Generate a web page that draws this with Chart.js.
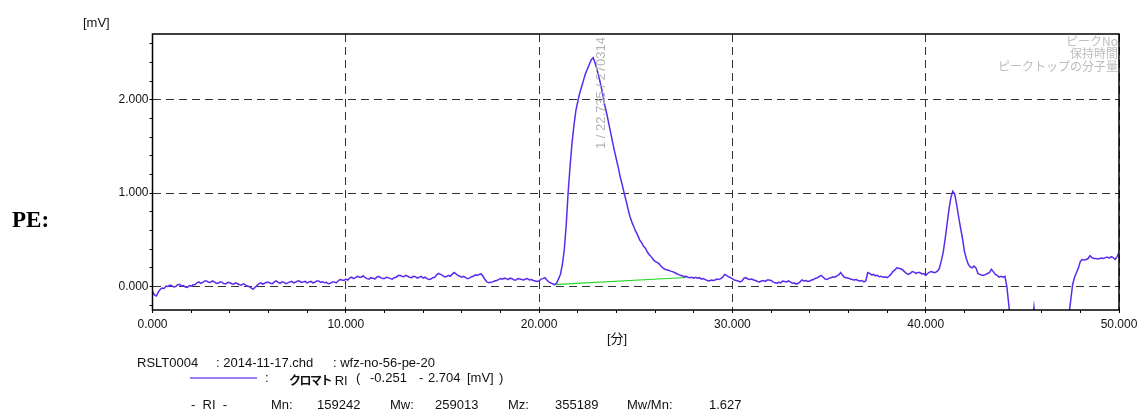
<!DOCTYPE html>
<html>
<head>
<meta charset="utf-8">
<title>PE RI chromatogram</title>
<script src="https://cdn.jsdelivr.net/npm/chart.js@4.4.1/dist/chart.umd.min.js"></script>
<style>
  body { margin: 0; background: #fff; }
  #wrap { position: relative; width: 1138px; height: 413px; overflow: hidden;
          font-family: "Liberation Sans", "Noto Sans CJK JP", sans-serif; color: #111; }
  #wrap canvas { position: absolute; left: 0; top: 0; }
  .t { position: absolute; font-size: 13px; line-height: 13px; white-space: pre; }
  .pe { position: absolute; left: 12px; top: 207px; font: bold 23px "Liberation Serif", "DejaVu Serif", serif; color: #000; }
  .legend-line { position: absolute; left: 190px; top: 377px; width: 67px; height: 2px; background: #9a7df2; }
  .kana { font: bold 12px "Noto Sans CJK JP", sans-serif; letter-spacing: -1.5px; }
</style>
</head>
<body>
<div id="wrap">
  <canvas id="chrom" width="1138" height="413"></canvas>
  <div class="pe">PE:</div>
  <div class="t" style="left:83px;top:16px">[mV]</div>
  <div class="t" style="left:607px;top:332px">[分]</div>

  <div class="t" style="left:137px;top:356px">RSLT0004</div>
  <div class="t" style="left:216px;top:356px">: 2014-11-17.chd</div>
  <div class="t" style="left:333px;top:356px">: wfz-no-56-pe-20</div>

  <div class="legend-line"></div>
  <div class="t" style="left:265px;top:371px">:</div>
  <div class="t" style="left:289px;top:371px"><span class="kana">クロマト</span> RI</div>
  <div class="t" style="left:356px;top:371px">(</div>
  <div class="t" id="rangeLo" style="left:370px;top:371px"></div>
  <div class="t" style="left:419px;top:371px">-</div>
  <div class="t" id="rangeHi" style="left:428px;top:371px"></div>
  <div class="t" style="left:467px;top:371px">[mV]</div>
  <div class="t" style="left:499px;top:371px">)</div>

  <div class="t" style="left:191px;top:398px">-  RI  -</div>
  <div class="t" style="left:271px;top:398px">Mn:</div>
  <div class="t" id="mn" style="left:317px;top:398px"></div>
  <div class="t" style="left:390px;top:398px">Mw:</div>
  <div class="t" id="mw" style="left:435px;top:398px"></div>
  <div class="t" style="left:508px;top:398px">Mz:</div>
  <div class="t" id="mz" style="left:555px;top:398px"></div>
  <div class="t" style="left:627px;top:398px">Mw/Mn:</div>
  <div class="t" id="pd" style="left:709px;top:398px"></div>
</div>
<script>
// RI detector signal [mV], one sample every 0.1 min from 0 to 50 min (10 per row)
const sampleStep = 0.1;
const riSignal = [
  -0.05, -0.09, -0.10, -0.06, -0.03, -0.015, -0.02, 0.005, 0.00, 0.015,
  0.01, -0.005, 0.00, 0.02, 0.025, 0.005, 0.01, -0.005, -0.01, 0.01,
  0.005, 0.02, 0.02, 0.04, 0.05, 0.035, 0.045, 0.06, 0.06, 0.045,
  0.045, 0.06, 0.05, 0.035, 0.035, 0.05, 0.045, 0.03, 0.03, 0.045,
  0.04, 0.03, 0.025, 0.04, 0.03, 0.02, 0.015, 0.03, 0.02, 0.005,
  0.00, -0.015, -0.03, -0.01, 0.01, 0.03, 0.04, 0.025, 0.035, 0.045,
  0.045, 0.035, 0.03, 0.05, 0.06, 0.045, 0.035, 0.05, 0.045, 0.03,
  0.04, 0.05, 0.055, 0.04, 0.045, 0.06, 0.06, 0.045, 0.05, 0.055,
  0.04, 0.05, 0.055, 0.04, 0.045, 0.06, 0.06, 0.045, 0.05, 0.04,
  0.045, 0.03, 0.035, 0.05, 0.05, 0.04, 0.06, 0.075, 0.07, 0.065,
  0.08, 0.07, 0.09, 0.10, 0.085, 0.095, 0.11, 0.10, 0.10, 0.115,
  0.095, 0.085, 0.08, 0.095, 0.09, 0.08, 0.10, 0.11, 0.095, 0.085,
  0.085, 0.10, 0.095, 0.085, 0.08, 0.095, 0.10, 0.115, 0.12, 0.11,
  0.105, 0.12, 0.11, 0.10, 0.095, 0.11, 0.105, 0.09, 0.10, 0.11,
  0.09, 0.10, 0.085, 0.075, 0.08, 0.095, 0.10, 0.125, 0.14, 0.13,
  0.12, 0.105, 0.105, 0.12, 0.11, 0.13, 0.15, 0.135, 0.12, 0.11,
  0.10, 0.11, 0.095, 0.085, 0.09, 0.105, 0.11, 0.125, 0.12, 0.13,
  0.135, 0.11, 0.075, 0.05, 0.04, 0.045, 0.05, 0.06, 0.065, 0.075,
  0.085, 0.08, 0.09, 0.085, 0.075, 0.09, 0.085, 0.07, 0.07, 0.085,
  0.08, 0.075, 0.07, 0.08, 0.085, 0.07, 0.075, 0.065, 0.06, 0.055,
  0.06, 0.08, 0.085, 0.095, 0.07, 0.05, 0.04, 0.03, 0.02, 0.035,
  0.08, 0.13, 0.23, 0.39, 0.65, 1.00, 1.28, 1.53, 1.72, 1.88,
  1.98, 2.07, 2.14, 2.21, 2.28, 2.33, 2.38, 2.43, 2.45, 2.39,
  2.32, 2.24, 2.15, 2.05, 1.94, 1.85, 1.75, 1.65, 1.55, 1.45,
  1.36, 1.27, 1.17, 1.09, 1.00, 0.92, 0.83, 0.75, 0.69, 0.64,
  0.59, 0.55, 0.50, 0.47, 0.43, 0.41, 0.37, 0.34, 0.32, 0.29,
  0.27, 0.26, 0.245, 0.22, 0.20, 0.185, 0.18, 0.175, 0.165, 0.16,
  0.15, 0.14, 0.13, 0.12, 0.115, 0.105, 0.11, 0.10, 0.095, 0.10,
  0.09, 0.10, 0.09, 0.095, 0.08, 0.085, 0.075, 0.065, 0.06, 0.07,
  0.065, 0.07, 0.08, 0.075, 0.085, 0.10, 0.13, 0.12, 0.105, 0.095,
  0.085, 0.07, 0.065, 0.06, 0.05, 0.06, 0.09, 0.095, 0.08, 0.075,
  0.08, 0.07, 0.065, 0.055, 0.05, 0.06, 0.065, 0.055, 0.07, 0.07,
  0.065, 0.05, 0.04, 0.035, 0.045, 0.04, 0.06, 0.055, 0.05, 0.06,
  0.05, 0.035, 0.04, 0.025, 0.035, 0.05, 0.07, 0.06, 0.065, 0.055,
  0.06, 0.07, 0.075, 0.09, 0.095, 0.11, 0.12, 0.10, 0.08, 0.075,
  0.09, 0.095, 0.105, 0.10, 0.115, 0.125, 0.15, 0.12, 0.10, 0.095,
  0.09, 0.08, 0.075, 0.07, 0.075, 0.065, 0.06, 0.065, 0.05, 0.06,
  0.15, 0.14, 0.125, 0.13, 0.115, 0.12, 0.105, 0.11, 0.10, 0.105,
  0.095, 0.11, 0.13, 0.16, 0.175, 0.20, 0.195, 0.19, 0.18, 0.16,
  0.14, 0.13, 0.14, 0.16, 0.155, 0.14, 0.15, 0.15, 0.135, 0.14,
  0.12, 0.14, 0.155, 0.16, 0.15, 0.15, 0.165, 0.19, 0.27, 0.36,
  0.50, 0.66, 0.82, 0.95, 1.02, 0.99, 0.88, 0.75, 0.63, 0.52,
  0.38, 0.30, 0.24, 0.21, 0.20, 0.22, 0.20, 0.14, 0.13, 0.12,
  0.12, 0.13, 0.14, 0.15, 0.185, 0.16, 0.13, 0.12, 0.10, 0.11,
  0.10, 0.11, 0.00, -0.20, -0.40, -0.60, -0.75, -0.85, -0.95, -1.00,
  -1.05, -1.00, -0.95, -0.80, -0.60, -0.40, -0.22, -0.45, -0.70, -0.90,
  -1.00, -1.05, -1.10, -1.10, -1.10, -1.05, -1.00, -0.95, -0.90, -0.85,
  -0.80, -0.70, -0.60, -0.50, -0.32, -0.15, 0.02, 0.10, 0.15, 0.20,
  0.27, 0.29, 0.285, 0.29, 0.30, 0.33, 0.31, 0.30, 0.30, 0.295,
  0.30, 0.305, 0.30, 0.31, 0.315, 0.305, 0.32, 0.31, 0.29, 0.32,
  0.36
];

// integration baseline under peak 1: [time, mV]
const baselineStart = [20.75, 0.02];
const baselineEnd = [27.6, 0.097];

// peak table
const peakNo = 1;
const peakTime = 22.735;
const peakMw = 270314;
const peakHeader = ['ピークNo', '保持時間', 'ピークトップの分子量'];

// axis ranges and labelled ticks
const timeMin = 0, timeMax = 50;
const mvMin = -0.251, mvMax = 2.704;
const timeLabelTicks = [0, 10, 20, 30, 40, 50];
const mvLabelTicks = [0, 1, 2];
const timeMinorStep = 2;
const mvMinorStep = 0.2;

// molecular weight averages
const mn = 159242, mw = 259013, mz = 355189, mwmn = 1.627;

document.getElementById('rangeLo').textContent = mvMin.toFixed(3);
document.getElementById('rangeHi').textContent = mvMax.toFixed(3);
document.getElementById('mn').textContent = mn;
document.getElementById('mw').textContent = mw;
document.getElementById('mz').textContent = mz;
document.getElementById('pd').textContent = mwmn.toFixed(3);

const tracePoints = riSignal.map((v, i) => ({ x: +(i * sampleStep).toFixed(1), y: v }));

const isOn = (list, v) => list.some(t => Math.abs(t - v) < 1e-6);
const tickFont = { family: '"Liberation Sans", sans-serif', size: 12 };

// frame, peak label and peak table header drawn over the plot
const overlay = {
  id: 'overlay',
  afterDraw(chart) {
    const { ctx, chartArea: a, scales } = chart;
    ctx.save();
    ctx.strokeStyle = '#000';
    ctx.lineWidth = 1.5;
    ctx.strokeRect(a.left, a.top, a.right - a.left, a.bottom - a.top);

    ctx.fillStyle = '#bdbdbd';
    ctx.font = '12px "Noto Sans CJK JP", "Liberation Sans", sans-serif';
    ctx.textAlign = 'right';
    ctx.textBaseline = 'middle';
    peakHeader.forEach((s, i) => ctx.fillText(s, a.right - 1, a.top + 7 + i * 12.5));

    const px = scales.x.getPixelForValue(peakTime) + 9;
    ctx.translate(px, a.top + 115);
    ctx.rotate(-Math.PI / 2);
    ctx.textAlign = 'left';
    ctx.fillStyle = '#b4b4b4';
    ctx.font = '13px "Liberation Sans", sans-serif';
    ctx.fillText(`${peakNo} / ${peakTime} / ${peakMw}`, 0, 0);
    ctx.restore();
  }
};

new Chart(document.getElementById('chrom'), {
  type: 'line',
  data: {
    datasets: [
      {
        data: tracePoints,
        borderColor: '#5a2bee',
        borderWidth: 1.5,
        pointRadius: 0,
        tension: 0,
        order: 1
      },
      {
        data: [
          { x: baselineStart[0], y: baselineStart[1] },
          { x: baselineEnd[0], y: baselineEnd[1] }
        ],
        borderColor: '#22d822',
        borderWidth: 1.2,
        pointRadius: 0,
        order: 2
      }
    ]
  },
  options: {
    responsive: false,
    animation: false,
    devicePixelRatio: 1,
    layout: { padding: { left: 0, top: 34, right: 19, bottom: 73 } },
    plugins: { legend: { display: false }, tooltip: { enabled: false } },
    scales: {
      x: {
        type: 'linear',
        min: timeMin,
        max: timeMax,
        afterFit: s => { s.height = 30; s.paddingLeft = 0; s.paddingRight = 0; },
        ticks: {
          stepSize: timeMinorStep,
          autoSkip: false,
          maxRotation: 0,
          padding: 4,
          color: '#111',
          font: tickFont,
          callback: v => isOn(timeLabelTicks, v) ? v.toFixed(3) : ''
        },
        grid: {
          color: c => (c.tick && isOn(timeLabelTicks, c.tick.value)) ? '#333' : 'rgba(0,0,0,0)',
          tickColor: '#000',
          tickLength: 3,
          lineWidth: 1
        },
        border: { display: false, dash: [8, 5] }
      },
      y: {
        min: mvMin,
        max: mvMax,
        afterFit: s => { s.width = 152.5; },
        ticks: {
          stepSize: mvMinorStep,
          includeBounds: false,
          autoSkip: false,
          padding: 1,
          color: '#111',
          font: tickFont,
          callback: v => isOn(mvLabelTicks, v) ? v.toFixed(3) : ''
        },
        grid: {
          color: c => (c.tick && isOn(mvLabelTicks, c.tick.value)) ? '#333' : 'rgba(0,0,0,0)',
          tickColor: '#000',
          tickLength: 3,
          lineWidth: 1
        },
        border: { display: false, dash: [8, 5] }
      }
    }
  },
  plugins: [overlay]
});
</script>
</body>
</html>
